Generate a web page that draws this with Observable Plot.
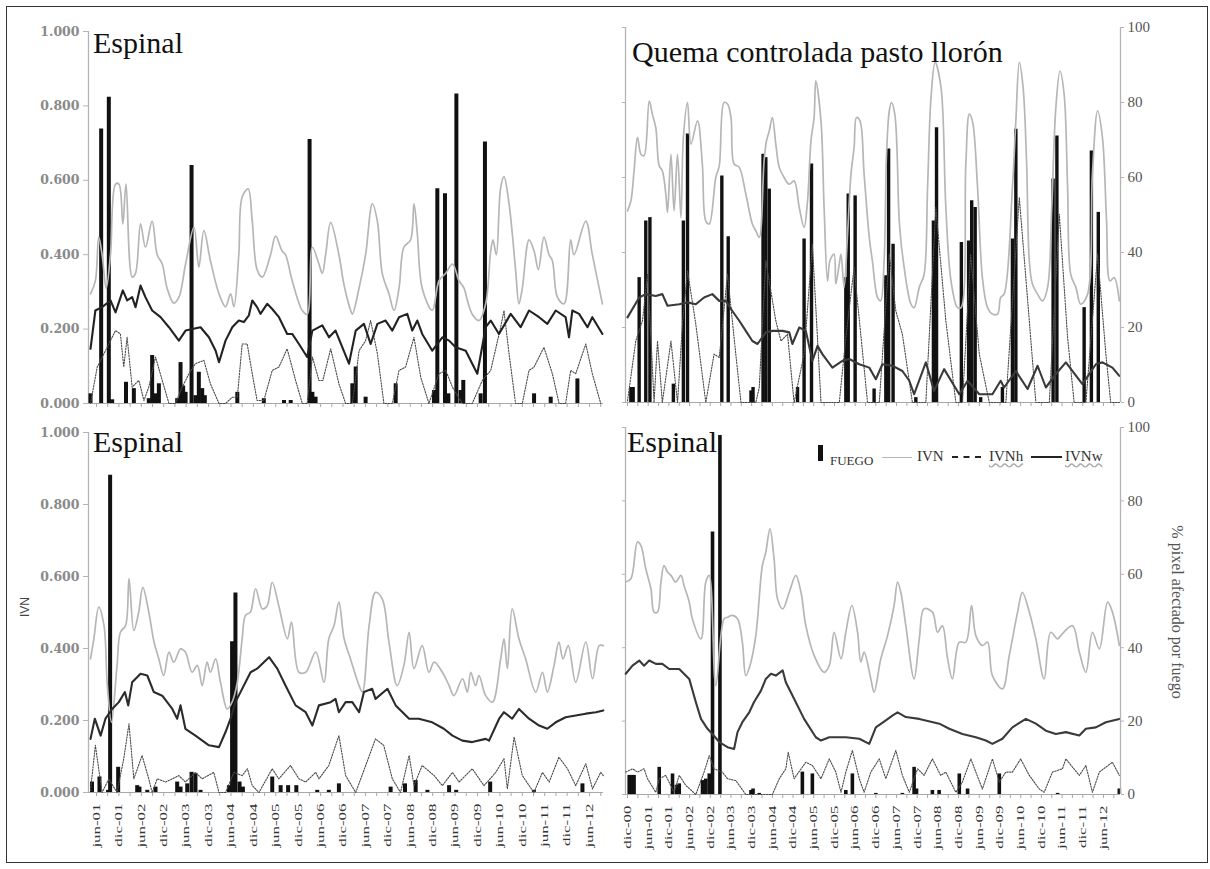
<!DOCTYPE html>
<html><head><meta charset="utf-8">
<script src="https://cdn.jsdelivr.net/npm/d3@7"></script>
<script src="https://cdn.jsdelivr.net/npm/@observablehq/plot@0.6"></script>
<style>
html,body{margin:0;padding:0;background:#fff;}
#wrap{position:relative;width:1210px;height:869px;overflow:hidden;font-family:"Liberation Serif",serif;background:#fff;}
#wrap svg{position:absolute;left:0;top:0;}
#frame{position:absolute;left:6px;top:6px;width:1202px;height:857px;border:1.5px solid #333;box-sizing:border-box;}
.t{position:absolute;font-family:"Liberation Serif",serif;line-height:1;white-space:nowrap;color:#111;}
.rot{position:absolute;white-space:nowrap;line-height:1;transform-origin:center center;}
.lg{position:absolute;}
</style></head><body>
<div id="wrap"><div id="frame"></div></div>
<script>
// x values: months since January 2000; y values: IVN (0-1); FUEGO: % pixel affected by fire
const leftTickLabels = ["jun-01","dic-01","jun-02","dic-02","jun-03","dic-03","jun-04","dic-04","jun-05","dic-05","jun-06","dic-06","jun-07","dic-07","jun-08","dic-08","jun-09","dic-09","jun-10","dic-10","jun-11","dic-11","jun-12"];
const rightTickLabels = ["dic-00"].concat(leftTickLabels);
const leftTickMonths = leftTickLabels.map((_, i) => 17 + 6 * i);
const rightTickMonths = rightTickLabels.map((_, i) => 11 + 6 * i);
const ivnTicks = [0, 0.2, 0.4, 0.6, 0.8, 1];
const titles = ["Espinal", "Quema controlada pasto llorón", "Espinal", "Espinal"];
const legendLabels = ["FUEGO", "IVN", "IVNh", "IVNw"];

// ---- Panel 1: top-left (Espinal)
const tlIVN = [[15.4,.295],[16.7,.33],[17.6,.447],[18.5,.40],[19.6,.31],[20.75,.40],[22.1,.59],[23.0,.59],[24.05,.483],[24.9,.59],[26.55,.34],[27.45,.35],[28.8,.483],[30.1,.42],[31.9,.49],[33.25,.40],[34.6,.375],[35.9,.31],[37.7,.27],[39.05,.285],[40.85,.375],[43.1,.474],[44.4,.366],[45.75,.465],[47.5,.384],[49.8,.295],[51.55,.26],[52.9,.295],[53.8,.26],[55.1,.40],[56.0,.555],[57.6,.577],[58.7,.49],[60.0,.36],[61.4,.34],[63.6,.40],[64.95,.45],[66.7,.41],[67.6,.40],[69.4,.33],[72.1,.25],[73.4,.24],[74.8,.42],[76.55,.375],[77.45,.35],[78.35,.40],[79.7,.487],[81.9,.40],[83.25,.32],[85.05,.25],[85.5,.24],[87.3,.31],[89.05,.40],[90.85,.537],[92.2,.49],[93.5,.35],[95.3,.295],[96.65,.25],[98.0,.31],[99.3,.42],[101.1,.44],[102.0,.537],[102.9,.456],[104.2,.31],[106.9,.25],[108.7,.33],[110.5,.35],[112.3,.375],[114.05,.33],[115.4,.31],[116.3,.277],[117.6,.24],[119.4,.223],[121.2,.268],[122.55,.41],[123.15,.44],[124.05,.40],[125.2,.58],[126.1,.61],[127.45,.537],[129.2,.36],[130.1,.268],[131.0,.31],[132.8,.44],[134.15,.41],[135.3,.36],[136.8,.447],[138.15,.40],[139.05,.384],[140.4,.286],[142.2,.268],[143.95,.44],[144.85,.40],[148.0,.49],[149.75,.40],[152.45,.268]];
const tlIVNw = [[15.4,.147],[16.7,.25],[18.5,.259],[20.75,.277],[22.1,.245],[24.05,.304],[25.2,.277],[26.55,.286],[27.45,.259],[28.8,.317],[30.1,.286],[31.9,.25],[34.15,.232],[36.4,.205],[39.05,.169],[40.85,.196],[44.85,.205],[47.1,.178],[48.9,.142],[49.8,.111],[51.55,.169],[53.35,.205],[55.1,.223],[56.45,.219],[57.8,.237],[58.7,.277],[60.0,.259],[60.9,.241],[62.7,.268],[64.05,.254],[65.85,.232],[68.05,.187],[69.4,.187],[71.2,.16],[73.4,.125],[74.8,.196],[77.45,.21],[79.25,.178],[81.0,.196],[84.6,.107],[86.4,.196],[88.6,.214],[90.4,.16],[92.2,.214],[94.4,.223],[96.2,.196],[98.0,.232],[100.2,.241],[101.55,.196],[102.9,.223],[104.2,.187],[106.9,.142],[109.6,.178],[111.4,.169],[113.15,.151],[115.85,.142],[118.95,.08],[121.2,.205],[122.55,.223],[124.75,.187],[127.9,.241],[130.55,.205],[132.8,.25],[135.5,.232],[137.7,.214],[139.95,.25],[142.6,.232],[143.5,.178],[144.4,.25],[146.2,.241],[148.45,.205],[149.75,.232],[152.45,.187]];
const tlIVNh = [[15.4,0],[17.2,.098],[22.1,.196],[23.4,.187],[24.3,.098],[25.2,.178],[26.55,.044],[28.35,.062],[29.7,.008],[31.0,.044],[32.8,.125],[34.6,.062],[36.4,0],[38.15,0],[39.95,.044],[41.75,.08],[43.5,.107],[45.75,.116],[47.5,.053],[49.8,0],[51.55,0],[53.35,.017],[54.7,.017],[56.0,.16],[57.35,.16],[58.7,.08],[60.0,.008],[61.8,.008],[64.05,.089],[65.85,.098],[68.05,.147],[70.3,.062],[72.1,0],[73.4,0],[74.8,.125],[76.55,.062],[77.6,.062],[79.7,.147],[81.9,.053],[83.7,0],[85.5,0],[87.3,.142],[89.05,.169],[90.4,.223],[92.2,.134],[93.95,0],[96.2,0],[98.0,.089],[99.75,.098],[102.0,.178],[103.8,.071],[106.0,0],[108.7,.08],[110.5,.089],[112.3,.044],[114.95,0],[117.6,0],[120.3,.062],[122.55,.089],[125.2,.205],[126.1,.25],[127.45,.134],[129.2,0],[131.0,0],[132.8,.089],[134.15,.098],[136.8,.151],[139.05,.08],[140.85,0],[142.6,0],[143.95,.089],[145.3,.08],[148.0,.16],[149.75,.08],[152.0,0]];
const tlFuego = [[15.4,2.6],[18.25,73.8],[20.3,82.3],[21.2,1.0],[24.9,5.7],[27.0,4.0],[31.0,1.3],[31.9,12.9],[32.8,2.6],[33.7,5.3],[38.6,1.3],[39.5,11.0],[40.2,4.7],[40.85,3.0],[42.45,64.0],[43.5,2.1],[44.4,8.4],[45.3,4.0],[46.0,2.1],[54.7,3.0],[61.8,1.3],[67.2,0.8],[69.0,0.8],[74.05,71.0],[74.8,3.0],[75.65,1.7],[85.5,5.3],[86.4,9.8],[89.05,1.7],[97.1,5.3],[107.35,3.5],[108.25,57.7],[110.3,56.4],[111.2,2.6],[113.35,83.2],[114.5,3.5],[115.2,6.2],[119.85,2.6],[121.0,70.3],[134.15,2.6],[138.6,1.7],[145.75,6.6]];

// ---- Panel 2: top-right (Quema controlada pasto llorón)
const trIVN = [[11.0,.511],[12.0,.538],[12.9,.618],[13.9,.707],[14.9,.662],[15.8,.658],[17.3,.804],[18.2,.769],[19.2,.733],[20.2,.631],[21.1,.618],[22.1,.556],[22.6,.507],[23.6,.662],[24.5,.511],[25.5,.662],[26.5,.493],[27.2,.707],[28.4,.80],[29.4,.689],[31.3,.751],[32.7,.636],[33.7,.484],[34.7,.476],[36.6,.60],[37.6,.631],[39.0,.80],[40.0,.796],[41.0,.76],[41.9,.636],[43.4,.627],[45.3,.556],[47.2,.476],[48.2,.458],[49.2,.44],[50.6,.644],[51.3,.698],[52.1,.724],[53.0,.76],[54.0,.689],[55.0,.627],[56.4,.60],[57.9,.582],[59.3,.591],[60.8,.52],[62.2,.467],[63.2,.538],[64.2,.698],[65.1,.76],[65.6,.858],[67.1,.751],[68.0,.52],[69.0,.324],[69.7,.378],[70.9,.396],[71.4,.316],[72.4,.369],[72.9,.396],[73.8,.307],[74.8,.449],[75.8,.609],[76.7,.68],[77.4,.76],[78.4,.751],[79.6,.609],[81.1,.44],[82.0,.378],[83.5,.28],[84.4,.271],[85.4,.378],[86.1,.662],[86.9,.778],[87.5,.80],[88.5,.769],[89.8,.484],[90.7,.396],[93.2,.262],[94.1,.253],[95.6,.307],[97.0,.342],[98.0,.573],[99.0,.813],[100.2,.907],[101.9,.84],[103.3,.52],[104.8,.324],[106.7,.253],[107.7,.253],[109.1,.636],[110.1,.769],[111.0,.751],[112.5,.573],[113.9,.333],[115.4,.253],[116.8,.236],[118.3,.236],[119.2,.28],[120.2,.289],[122.6,.573],[123.6,.751],[124.6,.907],[125.7,.84],[126.7,.644],[127.5,.378],[128.4,.316],[129.9,.289],[131.3,.271],[132.8,.307],[134.0,.52],[135.2,.787],[136.4,.884],[137.6,.822],[138.6,.573],[139.5,.342],[141.0,.307],[142.4,.262],[144.4,.289],[145.8,.609],[147.3,.778],[148.7,.707],[149.9,.484],[150.9,.324],[152.1,.333],[153.6,.271]];
const trIVNw = [[11.0,.227],[14.4,.28],[16.3,.289],[19.2,.284],[21.1,.289],[22.6,.258],[26.0,.262],[28.4,.267],[30.8,.262],[33.2,.28],[35.6,.289],[37.6,.271],[39.5,.271],[41.4,.244],[43.4,.218],[45.3,.191],[47.2,.164],[48.7,.156],[51.1,.187],[53.0,.191],[56.0,.191],[57.9,.187],[58.8,.156],[60.8,.20],[62.7,.191],[64.6,.111],[66.1,.151],[67.5,.129],[70.4,.093],[73.3,.111],[75.3,.116],[78.2,.102],[81.1,.093],[83.0,.062],[84.9,.102],[87.8,.098],[90.7,.084],[92.7,.058],[94.1,.022],[97.5,.107],[99.9,.031],[102.8,.089],[107.2,.022],[109.6,.058],[113.0,.022],[116.8,.022],[119.2,.058],[120.2,.04],[123.6,.084],[127.0,.036],[129.9,.098],[132.3,.04],[135.2,.076],[138.1,.107],[142.9,.049],[146.8,.102],[148.7,.107],[151.6,.093],[153.6,.071]];
const trIVNh = [[11.0,.004],[13.4,.164],[15.35,.218],[16.8,.342],[17.8,.173],[18.7,0],[19.7,.164],[21.1,0],[23.6,.164],[25.5,0],[27.0,.218],[28.4,.351],[30.8,.209],[33.7,0],[36.1,.129],[37.6,.12],[40.0,.342],[42.4,.129],[43.9,0],[48.2,0],[49.2,.04],[51.1,.378],[54.0,.218],[55.5,.164],[57.4,.182],[59.3,0],[62.2,.129],[64.6,.422],[67.1,0],[72.4,0],[74.3,.173],[76.7,.36],[80.6,0],[84.0,0],[86.9,.396],[88.8,.244],[90.7,.182],[93.6,0],[97.5,0],[100.4,.52],[103.3,.218],[106.2,0],[108.1,0],[110.5,.396],[113.0,.129],[115.9,0],[120.7,0],[124.6,.547],[127.5,.218],[129.4,0],[133.3,0],[136.2,.502],[138.6,.173],[140.5,0],[143.9,0],[147.3,.396],[149.7,.129],[151.1,0],[153.6,0]];
const trFuego = [[11.97,4],[12.64,4],[14.38,33.3],[16.3,48.4],[17.5,49.3],[24.3,4.9],[27.2,48.4],[28.4,71.6],[38.35,60.4],[40.2,44.2],[46.8,3.1],[47.4,4],[50.3,66.2],[51.1,65.3],[52.1,56.9],[60.3,4],[62.2,43.6],[64.35,63.6],[74.3,33.3],[75.0,55.6],[77.0,55.1],[82.5,3.6],[85.9,33.8],[86.7,67.6],[88.0,42.2],[94.6,1.3],[99.7,48.4],[100.6,73.3],[107.8,42.7],[109.9,43.1],[110.8,53.8],[111.8,52],[113.4,1.3],[119.7,4],[122.6,43.6],[123.6,72.9],[134.4,59.6],[135.5,71.1],[143.4,25.3],[145.5,67.1],[147.5,50.7]];

// ---- Panel 3: bottom-left (Espinal)
const blIVN = [[15.4,.371],[16.3,.427],[17.6,.515],[19.0,.464],[19.9,.297],[21.0,.195],[22.5,.353],[23.4,.445],[24.8,.464],[25.7,.594],[27.0,.45],[28.3,.501],[29.4,.57],[31.0,.501],[32.4,.418],[33.7,.371],[35.0,.325],[36.4,.39],[37.7,.362],[39.5,.399],[40.8,.39],[42.6,.334],[44.0,.353],[45.3,.297],[46.6,.362],[47.5,.334],[48.9,.371],[50.2,.306],[52.0,.232],[53.3,.251],[54.7,.306],[56.0,.427],[56.9,.492],[58.2,.501],[59.6,.566],[61.4,.51],[62.7,.519],[64.05,.584],[65.8,.519],[68.1,.427],[69.2,.473],[71.2,.334],[73.0,.334],[75.7,.39],[77.9,.306],[79.2,.427],[80.6,.464],[81.9,.529],[83.3,.427],[85.0,.371],[87.3,.297],[88.2,.279],[90.0,.464],[91.7,.556],[93.5,.538],[95.3,.418],[97.5,.297],[99.3,.353],[100.7,.445],[102.0,.344],[104.2,.408],[106.0,.334],[107.4,.362],[109.6,.334],[111.4,.297],[112.7,.269],[115.0,.316],[116.3,.279],[117.2,.334],[118.5,.297],[119.4,.325],[121.2,.269],[123.0,.251],[125.2,.371],[126.1,.427],[127.0,.344],[128.3,.51],[130.1,.427],[131.9,.371],[134.6,.279],[136.4,.334],[137.7,.279],[139.5,.353],[140.8,.418],[141.9,.371],[143.3,.408],[145.3,.306],[148.0,.418],[149.8,.316],[151.6,.408],[152.7,.408]];
const blIVNw = [[15.4,.149],[16.55,.205],[18.1,.158],[19.4,.205],[21.2,.232],[22.98,.251],[24.6,.279],[25.5,.242],[26.55,.306],[28.8,.33],[30.6,.325],[32.35,.279],[34.6,.269],[37.3,.232],[38.6,.205],[39.5,.242],[40.8,.177],[43.5,.158],[47.1,.131],[49.8,.126],[51.55,.168],[52.9,.205],[54.2,.251],[58.25,.334],[60.0,.344],[63.2,.376],[65.4,.344],[67.6,.297],[70.3,.242],[73.0,.223],[74.8,.186],[76.55,.242],[79.7,.251],[81.0,.26],[81.9,.223],[83.7,.251],[85.5,.251],[87.3,.223],[88.6,.279],[90.8,.288],[91.7,.26],[94.9,.288],[97.1,.242],[100.7,.205],[103.3,.205],[106.9,.195],[110.0,.177],[112.3,.158],[114.95,.144],[117.6,.14],[121.2,.149],[122.1,.144],[124.8,.205],[126.1,.223],[128.3,.205],[130.1,.232],[132.8,.205],[135.5,.186],[137.7,.177],[139.95,.195],[142.6,.209],[145.3,.214],[148.0,.219],[150.7,.223],[152.7,.228]];
const blIVNh = [[15.4,.006],[16.7,.131],[18.5,0],[20.3,.038],[22.5,0],[24.3,.094],[25.7,.191],[27.0,.038],[29.2,.103],[31.0,.038],[31.9,0],[33.25,.038],[35.5,.029],[37.3,.038],[39.05,.047],[40.8,.029],[43.5,.056],[45.3,.038],[48.4,.056],[49.8,0],[51.55,0],[53.8,.056],[56.0,.047],[57.4,.066],[58.7,.019],[60.5,0],[64.05,.066],[65.8,.038],[68.95,.075],[71.2,.038],[73.0,.029],[75.7,.056],[76.55,.038],[79.2,.075],[81.9,.158],[83.7,.047],[86.4,0],[91.7,.149],[93.9,.131],[96.2,.038],[98.4,0],[100.7,.103],[102.0,.019],[104.2,.075],[107.4,.047],[109.6,.019],[112.3,.056],[114.05,.029],[117.6,.066],[120.75,.019],[123.9,.056],[126.1,.094],[127.0,.01],[128.8,.154],[131.0,.047],[134.1,0],[136.4,.056],[138.2,.029],[140.8,.098],[143.1,.066],[145.3,.019],[148.0,.08],[149.8,.01],[152.0,.056],[152.7,.047]];
const blFuego = [[15.8,2.9],[17.8,4.3],[20.1,0.6],[20.65,88.1],[22.8,7.0],[27.9,1.9],[28.5,1.5],[30.6,0.6],[32.8,1.5],[38.6,2.9],[39.5,1.5],[41.3,2.4],[42.45,5.6],[43.5,5.2],[44.85,0.6],[52.45,1.9],[53.3,41.9],[54.2,55.4],[55.3,2.9],[56.2,1.5],[64.05,4.3],[66.3,1.9],[68.3,1.9],[70.5,1.9],[76.1,0.6],[79.2,0.6],[81.9,2.4],[95.75,1.5],[99.6,2.4],[102.45,3.3],[105.6,0.6],[111.4,1.9],[113.3,0.6],[122.4,2.9],[134.1,0.6],[147.1,2.4]];

// ---- Panel 4: bottom-right (Espinal)
const brIVN = [[10.5,.579],[12.0,.588],[13.9,.688],[14.9,.678],[16.3,.615],[17.8,.56],[18.7,.497],[19.7,.497],[20.7,.579],[21.6,.624],[22.6,.606],[23.6,.597],[25.0,.579],[26.5,.597],[27.4,.569],[28.9,.524],[29.8,.479],[32.3,.424],[33.7,.579],[34.7,.597],[36.6,.297],[39.0,.479],[40.0,.483],[41.4,.488],[42.9,.479],[44.3,.415],[45.3,.324],[46.5,.351],[48.2,.433],[50.1,.624],[51.1,.66],[52.3,.724],[53.5,.642],[54.5,.533],[56.0,.506],[57.9,.551],[59.8,.597],[61.3,.551],[62.7,.46],[65.1,.379],[68.0,.333],[69.5,.351],[70.9,.442],[72.9,.37],[74.3,.442],[76.05,.515],[77.7,.442],[78.65,.361],[79.6,.388],[81.55,.315],[82.5,.279],[84.45,.37],[86.4,.433],[88.3,.515],[89.3,.579],[90.25,.551],[91.7,.46],[94.1,.315],[95.6,.424],[97.0,.506],[99.4,.497],[100.9,.442],[102.3,.46],[103.8,.37],[105.2,.315],[107.2,.415],[109.1,.415],[110.75,.515],[112.0,.433],[113.9,.406],[115.4,.415],[116.8,.324],[119.7,.288],[121.7,.379],[124.1,.497],[125.5,.551],[127.5,.497],[129.4,.424],[131.8,.315],[133.7,.442],[135.7,.424],[136.6,.433],[140.0,.46],[142.0,.388],[143.9,.333],[145.8,.442],[147.8,.397],[150.2,.524],[151.6,.497],[153.6,.406]];
const brIVNw = [[10.5,.329],[12.45,.351],[14.4,.365],[15.8,.351],[17.3,.365],[19.2,.356],[21.1,.356],[23.1,.342],[26.0,.342],[28.9,.315],[30.8,.252],[32.3,.206],[34.2,.179],[35.6,.165],[37.6,.143],[40.0,.129],[41.9,.124],[42.9,.17],[44.3,.197],[46.3,.224],[47.7,.252],[49.7,.283],[51.1,.315],[52.6,.329],[54.0,.324],[56.0,.338],[56.9,.306],[59.3,.261],[62.2,.206],[65.6,.156],[67.1,.147],[69.5,.156],[74.3,.156],[78.2,.152],[81.1,.138],[83.0,.183],[85.9,.202],[87.8,.215],[89.3,.224],[91.7,.211],[95.6,.206],[101.4,.193],[104.3,.179],[108.1,.165],[112.0,.156],[114.9,.147],[116.8,.138],[119.7,.152],[122.6,.183],[126.5,.206],[129.4,.193],[132.3,.174],[135.2,.165],[138.1,.17],[142.0,.161],[143.9,.179],[146.8,.183],[149.7,.197],[153.6,.206]];
const brIVNh = [[10.5,.061],[12.45,.07],[13.9,.061],[15.8,.07],[16.8,.043],[19.2,.006],[20.2,.043],[22.1,.052],[24.5,.006],[26.0,.052],[27.9,.025],[30.8,0],[33.2,.061],[34.7,.106],[36.1,.07],[38.5,.061],[40.0,.043],[42.4,.038],[43.4,.025],[45.3,0],[53.0,0],[55.0,.043],[56.9,.07],[57.6,.115],[59.3,.043],[62.7,.088],[64.6,.079],[67.1,.043],[69.5,.097],[71.4,.061],[72.9,.006],[74.3,.061],[76.2,.12],[78.2,.043],[79.6,.006],[81.55,.061],[84.0,.097],[85.9,.043],[88.8,.12],[90.7,.052],[92.7,.006],[95.1,.07],[97.0,.052],[99.4,.097],[101.8,.052],[103.3,.061],[106.2,.006],[108.1,.034],[110.55,.097],[112.0,.061],[113.9,.015],[116.8,.097],[118.8,.034],[120.7,.061],[122.6,.061],[125.0,.097],[127.5,.052],[130.4,.015],[131.8,.006],[134.2,.061],[137.1,.07],[138.1,.097],[142.0,.052],[143.9,.079],[145.8,.006],[147.8,.061],[151.6,.088],[153.6,.052]];
const brFuego = [[11.5,5.2],[12.3,5.2],[12.9,5.2],[20.2,7.4],[24.05,5.6],[25.2,2.5],[26.0,2.9],[32.75,3.8],[33.7,4.2],[34.7,5.6],[35.65,71.5],[37.8,97.8],[46.8,1.1],[47.4,1.5],[49.2,0.3],[61.7,6.1],[64.6,5.6],[74.3,1.1],[76.2,5.6],[83.0,0.3],[90.7,0.3],[94.1,7.4],[94.8,1.5],[99.4,1.1],[101.35,1.1],[107.2,5.6],[109.6,1.5],[118.8,5.6],[135.7,0.3],[153.6,1.5]];

const W = 1210, H = 869;
const X = d => d[0], Y = d => d[1];

function panel(o) {
  const [xl, xr] = o.xPx, [yb, yt] = o.yPx;
  const first = o.tickMonths[0];
  const minor = d3.range(first - 3 * Math.floor((first - o.xDomain[0]) / 3), o.xDomain[1] + 0.01, 3);
  const marks = [
    Plot.ruleY([0], {stroke: "#a8a8a8", strokeWidth: 1.2}),
    Plot.ruleX([o.xDomain[0]], {y1: 0, y2: 1, stroke: "#b4b4b4", strokeWidth: 1.3}),
    Plot.axisX({ticks: minor, tickSize: 4, tickFormat: () => "", stroke: "#a8a8a8", label: null}),
    Plot.ruleX(o.fuego, {x: X, y1: 0, y2: d => d[1] / 100, stroke: "#111", strokeWidth: o.barW}),
    Plot.line(o.ivnh, {x: X, y: Y, stroke: "#4a4a4a", strokeWidth: 1.1, strokeDasharray: "1.4,1.4"}),
    Plot.line(o.ivn, {x: X, y: Y, stroke: "#b6b6b6", strokeWidth: 1.7, curve: "catmull-rom"}),
    Plot.line(o.ivnw, {x: X, y: Y, stroke: o.wColor, strokeWidth: 2.1})
  ];
  if (o.side === "left") {
    marks.push(Plot.axisY({anchor: "left", ticks: ivnTicks, tickFormat: d3.format(".3f"), tickSize: 5, tickPadding: 4,
      fontFamily: "DejaVu Serif", fontWeight: "bold", fontSize: 12.5, fill: "#8a8a8a", stroke: "#b4b4b4", label: null}));
  } else {
    marks.push(
      Plot.axisY({anchor: "left", ticks: ivnTicks, tickSize: 3, tickFormat: () => "", stroke: "#b4b4b4", label: null}),
      Plot.ruleX([o.xDomain[1]], {y1: 0, y2: 1, stroke: "#b4b4b4", strokeWidth: 1.3}),
      Plot.axisY({anchor: "right", ticks: ivnTicks, tickFormat: d => String(Math.round(d * 100)), tickSize: 3, tickPadding: 4,
        fontFamily: "Liberation Serif", fontSize: 15, fill: "#555", stroke: "#b4b4b4", label: null})
    );
  }
  if (o.labels) {
    marks.push(Plot.axisX({ticks: o.tickMonths, tickFormat: d => o.labels[o.tickMonths.indexOf(d)], tickRotate: -90,
      tickSize: 0, tickPadding: 11, fontFamily: "Liberation Serif", fontSize: 13, fill: "#333", label: null}));
  }
  const svg = Plot.plot({
    width: W, height: H,
    marginLeft: xl, marginRight: W - xr, marginTop: yt, marginBottom: H - yb,
    x: {type: "linear", domain: o.xDomain},
    y: {type: "linear", domain: [0, 1]},
    style: "background: transparent; overflow: visible; font-family: 'Liberation Serif', serif;",
    marks
  });
  if (o.labels) {
    svg.querySelectorAll('g[aria-label="x-axis tick label"] text').forEach(t => {
      const tr = t.getAttribute("transform");
      if (tr && tr.includes("rotate")) t.setAttribute("transform", tr + " scale(1.3,0.8)");
    });
  }
  return svg;
}

const leftX = [14.86, 152.74], rightX = [10.42, 153.94];
const wrap = document.getElementById("wrap");
const panels = [
  {xDomain: leftX, xPx: [88, 603], yPx: [403, 31], ivn: tlIVN, ivnh: tlIVNh, ivnw: tlIVNw, fuego: tlFuego, side: "left", tickMonths: leftTickMonths, barW: 4, wColor: "#222"},
  {xDomain: rightX, xPx: [625, 1120], yPx: [402, 27], ivn: trIVN, ivnh: trIVNh, ivnw: trIVNw, fuego: trFuego, side: "right", tickMonths: rightTickMonths, barW: 3.4, wColor: "#3a3a3a"},
  {xDomain: leftX, xPx: [88, 603], yPx: [792, 432], ivn: blIVN, ivnh: blIVNh, ivnw: blIVNw, fuego: blFuego, side: "left", tickMonths: leftTickMonths, labels: leftTickLabels, barW: 4, wColor: "#2b2b2b"},
  {xDomain: rightX, xPx: [625, 1120], yPx: [794, 427], ivn: brIVN, ivnh: brIVNh, ivnw: brIVNw, fuego: brFuego, side: "right", tickMonths: rightTickMonths, labels: rightTickLabels, barW: 3.6, wColor: "#3a3a3a"}
];
panels.forEach(p => wrap.appendChild(panel(p)));

// titles
const titlePos = [[93, 28], [632, 37], [93, 427], [627, 427]];
titles.forEach((t, i) => {
  const d = document.createElement("div");
  d.className = "t"; d.textContent = t;
  d.style.left = titlePos[i][0] + "px"; d.style.top = titlePos[i][1] + "px"; d.style.fontSize = "30px";
  wrap.appendChild(d);
});

// axis titles
function rotText(txt, cx, cy, deg, font, size, color) {
  const d = document.createElement("div");
  d.className = "rot"; d.textContent = txt;
  d.style.fontFamily = font; d.style.fontSize = size + "px"; d.style.color = color;
  d.style.left = cx + "px"; d.style.top = cy + "px";
  d.style.transform = `translate(-50%,-50%) rotate(${deg}deg)`;
  wrap.appendChild(d);
}
rotText("IVN", 25, 607, -90, "'Liberation Sans', sans-serif", 12, "#444");
rotText("% pixel afectado por fuego", 1177, 612, 90, "'Liberation Serif', serif", 16, "#555");

// legend
function el(css, text) {
  const d = document.createElement("div");
  d.className = "lg"; d.style.cssText = "position:absolute;" + css;
  if (text) d.textContent = text;
  wrap.appendChild(d);
  return d;
}
el("left:818px;top:445px;width:5px;height:16px;background:#111;");
el("left:830px;top:454px;font-family:'Liberation Serif';font-size:13px;line-height:1;color:#333;", legendLabels[0]);
el("left:882px;top:457px;width:30px;border-top:1.5px solid #b6b6b6;");
el("left:917px;top:449px;font-family:'Liberation Serif';font-size:15px;line-height:1;color:#333;", legendLabels[1]);
el("left:952px;top:456px;width:29px;border-top:2px dashed #222;");
el("left:989px;top:449px;font-family:'Liberation Serif';font-size:15px;line-height:1;color:#333;text-decoration:underline wavy #aaa;", legendLabels[2]);
el("left:1031px;top:456px;width:31px;border-top:2px solid #222;");
el("left:1065px;top:449px;font-family:'Liberation Serif';font-size:15px;line-height:1;color:#333;text-decoration:underline wavy #aaa;", legendLabels[3]);
</script>
</body></html>
